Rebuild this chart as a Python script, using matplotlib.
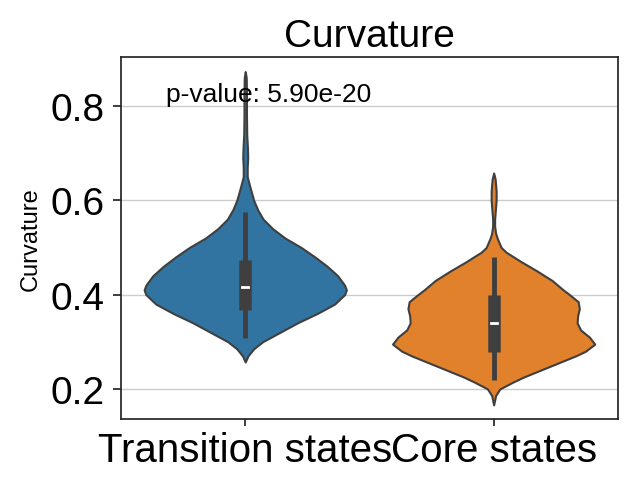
import matplotlib
matplotlib.use("Agg")
import matplotlib.pyplot as plt

plt.rcParams['font.family'] = ['Liberation Sans', 'DejaVu Sans']

# categories and colours
categories = ['Transition states', 'Core states']
colors = ['#3274a1', '#e1812c']

# violin outlines: value -> half width (in category units)
trans_y = [0.873, 0.86, 0.82, 0.78, 0.74, 0.71, 0.69, 0.67, 0.65, 0.63, 0.60, 0.58,
           0.56, 0.54, 0.52, 0.50, 0.48, 0.46, 0.44, 0.42, 0.41, 0.40, 0.38, 0.36,
           0.34, 0.32, 0.30, 0.285, 0.27, 0.257]
trans_w = [0.0, 0.004, 0.005, 0.005, 0.006, 0.009, 0.010, 0.008, 0.008, 0.018, 0.034, 0.05,
           0.072, 0.11, 0.16, 0.225, 0.28, 0.33, 0.372, 0.400, 0.407, 0.400, 0.36, 0.29,
           0.21, 0.14, 0.07, 0.034, 0.011, 0.0]
core_y = [0.658, 0.645, 0.62, 0.60, 0.58, 0.56, 0.545, 0.53, 0.52, 0.50, 0.49, 0.47,
          0.45, 0.43, 0.41, 0.40, 0.385, 0.37, 0.355, 0.34, 0.325, 0.31, 0.295, 0.28,
          0.27, 0.255, 0.24, 0.225, 0.214, 0.20, 0.186, 0.166]
core_w = [0.0, 0.006, 0.010, 0.010, 0.007, 0.004, 0.004, 0.008, 0.014, 0.03, 0.05, 0.11,
          0.175, 0.235, 0.28, 0.305, 0.34, 0.345, 0.338, 0.336, 0.35, 0.385, 0.407, 0.37,
          0.33, 0.26, 0.19, 0.12, 0.076, 0.025, 0.008, 0.0]

# box stats: whisker low, q1, median, q3, whisker high
trans_box = [0.308, 0.368, 0.416, 0.473, 0.575]
core_box = [0.218, 0.279, 0.340, 0.399, 0.479]

p_text = 'p-value: 5.90e-20'

fig, ax = plt.subplots(figsize=(6.35, 4.89), dpi=100)
fig.subplots_adjust(left=0.1906, right=0.973, top=0.8814, bottom=0.141)

edge = '#3f3f3f'
profiles = [(trans_y, trans_w, trans_box), (core_y, core_w, core_box)]
for i, (ys, ws, box) in enumerate(profiles):
    left = [i - w for w in ws]
    right = [i + w for w in ws]
    ax.fill_betweenx(ys, left, right, facecolor=colors[i], edgecolor=edge,
                     linewidth=1.5, zorder=2)
    lo, q1, med, q3, hi = box
    ax.plot([i, i], [lo, hi], color=edge, lw=3.5, solid_capstyle='butt', zorder=3)
    ax.plot([i, i], [q1, q3], color=edge, lw=9, solid_capstyle='butt', zorder=3)
    ax.plot([i - 0.012, i + 0.012], [med, med], color='white', lw=2, zorder=4)

ax.set_xlim(-0.5, 1.5)
ax.set_ylim(0.136, 0.904)
ax.set_xticks([0, 1])
ax.set_xticklabels(categories, fontsize=29)
ax.set_yticks([0.2, 0.4, 0.6, 0.8])
ax.set_yticklabels(['0.2', '0.4', '0.6', '0.8'], fontsize=28)
ax.tick_params(length=5, width=1.25, color='#262626')
ax.tick_params(axis='y', length=6, pad=6)
ax.yaxis.grid(True, color='#cccccc', lw=1, zorder=0)
ax.set_axisbelow(True)
for s in ax.spines.values():
    s.set_color('#262626')
    s.set_linewidth(1.25)
ax.set_ylabel('Curvature', fontsize=17, labelpad=6)
ax.set_title('Curvature', fontsize=28, pad=8)
ax.text(-0.32, 0.825, p_text, fontsize=19, va='center', ha='left')

fig.savefig('out.png', dpi=100)
